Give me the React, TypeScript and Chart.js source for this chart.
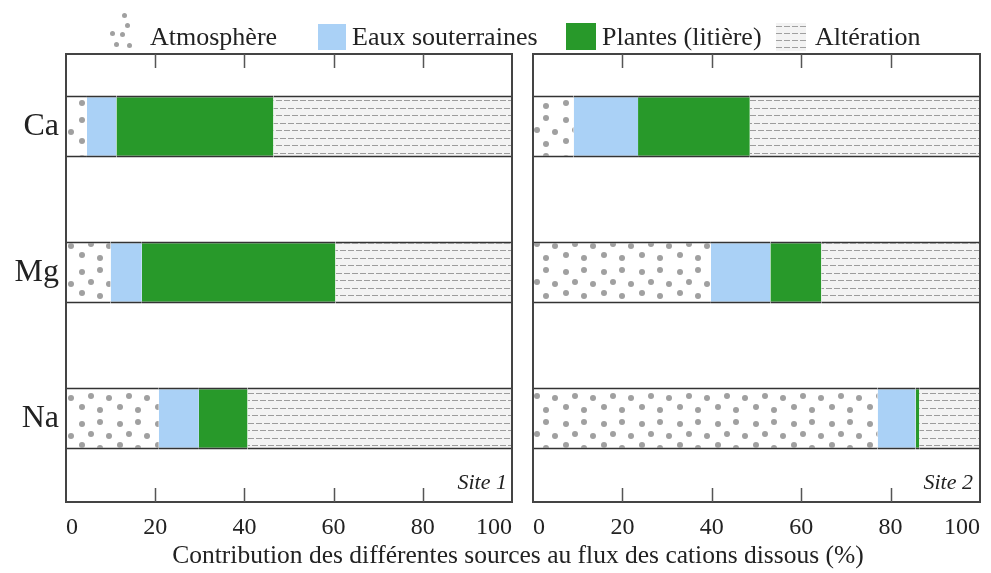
import React, { useEffect, useRef } from 'react';
import { Chart, registerables } from 'chart.js';

Chart.register(...registerables);

// ---------- data ----------
const elements = ['Ca', 'Mg', 'Na'];
const sourceNames = ['Atmosphère', 'Eaux souterraines', 'Plantes (litière)', 'Altération'];

const site1Atmosphere = [4.7, 10.0, 20.8];
const site1Groundwater = [6.6, 7.0, 9.0];
const site1Plants = [35.2, 43.4, 10.9];
const site1Weathering = [53.5, 39.6, 59.3];

const site2Atmosphere = [9.1, 39.8, 77.1];
const site2Groundwater = [14.4, 13.3, 8.5];
const site2Plants = [25.0, 11.4, 0.8];
const site2Weathering = [51.5, 35.5, 13.6];

const xTicks = [0, 20, 40, 60, 80, 100];
const siteLabels = ['Site 1', 'Site 2'];
const axisTitle = 'Contribution des différentes sources au flux des cations dissous (%)';

// ---------- styling ----------
const FONT = "'Liberation Serif', 'DejaVu Serif', serif";
const BLUE = '#aad1f6';
const GREEN = '#28992a';
const DOT = '#a0a0a0';
const DOT_SPOTS: [number, number][] = [
  [6, 6], [24, 4], [15, 16], [33, 18], [6, 27], [24, 30],
];

function makeDotPattern(): CanvasPattern | string {
  const c = document.createElement('canvas');
  c.width = 38;
  c.height = 38;
  const g = c.getContext('2d');
  if (!g) return '#ffffff';
  g.fillStyle = '#ffffff';
  g.fillRect(0, 0, 38, 38);
  g.fillStyle = DOT;
  for (const [x, y] of DOT_SPOTS) {
    g.beginPath();
    g.arc(x, y, 3, 0, Math.PI * 2);
    g.fill();
  }
  return g.createPattern(c, 'repeat') || '#ffffff';
}

function makeDashPattern(): CanvasPattern | string {
  const c = document.createElement('canvas');
  c.width = 16;
  c.height = 15;
  const g = c.getContext('2d');
  if (!g) return '#eeeeee';
  g.fillStyle = '#f3f3f3';
  g.fillRect(0, 0, 16, 15);
  g.fillStyle = '#9c9c9c';
  g.fillRect(0, 3, 6, 1);
  g.fillRect(8, 3, 6, 1);
  g.fillRect(4, 10, 6, 1);
  g.fillRect(12, 10, 4, 1);
  g.fillRect(0, 10, 2, 1);
  return g.createPattern(c, 'repeat') || '#eeeeee';
}

const framePlugin = {
  id: 'panelFrame',
  afterDatasetsDraw(chart: any) {
    const { ctx, chartArea: a, scales } = chart;
    ctx.save();
    ctx.strokeStyle = '#444';
    ctx.lineWidth = 2;
    ctx.strokeRect(a.left, a.top, a.right - a.left, a.bottom - a.top);
    ctx.strokeStyle = '#555';
    ctx.lineWidth = 1.5;
    for (const v of xTicks.slice(1, -1)) {
      const px = Math.round(scales.x.getPixelForValue(v)) + 0.5;
      ctx.beginPath();
      ctx.moveTo(px, a.top);
      ctx.lineTo(px, a.top + 14);
      ctx.moveTo(px, a.bottom);
      ctx.lineTo(px, a.bottom - 14);
      ctx.stroke();
    }
    ctx.restore();
  },
};

function buildChart(
  canvas: HTMLCanvasElement,
  series: number[][],
  showY: boolean,
  padLeft: number,
  padRight: number
) {
  const fills = [makeDotPattern(), BLUE, GREEN, makeDashPattern()];
  const datasets = sourceNames.map((name, k) => ({
    label: name,
    data: series[k].map((v, i) => ({ x: v, y: i })),
    backgroundColor: fills[k] as any,
    borderColor: '#333',
    borderWidth: { top: 2, bottom: 2, left: 0, right: 0 },
    borderSkipped: false as any,
    barThickness: 62,
    inflateAmount: 0,
  }));

  return new Chart(canvas, {
    type: 'bar',
    data: { datasets },
    plugins: [framePlugin],
    options: {
      indexAxis: 'y',
      responsive: false,
      animation: false,
      events: [],
      layout: { padding: { left: padLeft, right: padRight, top: 54, bottom: 31 } },
      plugins: { legend: { display: false }, tooltip: { enabled: false } },
      scales: {
        x: {
          type: 'linear',
          stacked: true,
          min: 0,
          max: 100,
          offset: false,
          grid: { display: false, drawTicks: false, offset: false },
          border: { display: false },
          afterBuildTicks: (scale: any) => {
            scale.ticks = xTicks.map((v) => ({ value: v }));
          },
          afterFit: (scale: any) => {
            scale.height = 40;
          },
          ticks: {
            align: 'inner',
            padding: 11,
            color: '#222',
            font: { family: FONT, size: 24 },
            maxRotation: 0,
            autoSkip: false,
          },
        },
        y: {
          type: 'linear',
          stacked: true,
          reverse: true,
          min: -0.497,
          max: 2.572,
          offset: false,
          display: showY,
          grid: { display: false, drawTicks: false, offset: false },
          border: { display: false },
          afterBuildTicks: (scale: any) => {
            scale.ticks = elements.map((_, i) => ({ value: i }));
          },
          afterFit: (scale: any) => {
            scale.width = showY ? 66 : 0;
          },
          ticks: {
            padding: 7,
            color: '#222',
            font: { family: FONT, size: 32 },
            callback: (v: any) => elements[Math.round(Number(v))] ?? '',
          },
        },
      },
    },
  } as any);
}

const textBase: React.CSSProperties = {
  position: 'absolute',
  fontFamily: FONT,
  color: '#222',
  whiteSpace: 'nowrap',
  lineHeight: 1,
};

const legendDots: [number, number][] = [
  [124, 15], [127, 25], [122, 34], [112, 33], [129, 45], [116, 44],
];

export default function App() {
  const leftRef = useRef<HTMLCanvasElement>(null);
  const rightRef = useRef<HTMLCanvasElement>(null);

  useEffect(() => {
    if (!leftRef.current || !rightRef.current) return;
    const left = buildChart(
      leftRef.current,
      [site1Atmosphere, site1Groundwater, site1Plants, site1Weathering],
      true,
      0,
      9
    );
    const right = buildChart(
      rightRef.current,
      [site2Atmosphere, site2Groundwater, site2Plants, site2Weathering],
      false,
      8,
      10
    );
    return () => {
      left.destroy();
      right.destroy();
    };
  }, []);

  return (
    <div
      style={{
        position: 'fixed',
        left: 0,
        top: 0,
        width: 991,
        height: 573,
        background: '#ffffff',
        overflow: 'hidden',
      }}
    >
      <canvas
        ref={leftRef}
        width={523}
        height={573}
        style={{ position: 'absolute', left: 0, top: 0, width: 523, height: 573 }}
      />
      <canvas
        ref={rightRef}
        width={469}
        height={573}
        style={{ position: 'absolute', left: 522, top: 0, width: 469, height: 573 }}
      />

      {/* legend */}
      {legendDots.map(([x, y], i) => (
        <div
          key={i}
          style={{
            position: 'absolute',
            left: x - 2.5,
            top: y - 2.5,
            width: 5,
            height: 5,
            borderRadius: '50%',
            background: DOT,
          }}
        />
      ))}
      <div style={{ ...textBase, left: 150, top: 24, fontSize: 26 }}>{sourceNames[0]}</div>
      <div style={{ position: 'absolute', left: 318, top: 24, width: 28, height: 26, background: BLUE }} />
      <div style={{ ...textBase, left: 352, top: 24, fontSize: 26 }}>{sourceNames[1]}</div>
      <div style={{ position: 'absolute', left: 566, top: 23, width: 30, height: 27, background: GREEN }} />
      <div style={{ ...textBase, left: 602, top: 24, fontSize: 26 }}>{sourceNames[2]}</div>
      <div
        style={{
          position: 'absolute',
          left: 776,
          top: 23,
          width: 30,
          height: 28,
          backgroundColor: '#f3f3f3',
          backgroundImage:
            'repeating-linear-gradient(to right, transparent 0 6px, #f3f3f3 6px 8px), repeating-linear-gradient(to bottom, #f3f3f3 0 3px, #a0a0a0 3px 4px, #f3f3f3 4px 7px)',
        }}
      />
      <div style={{ ...textBase, left: 815, top: 24, fontSize: 26 }}>{sourceNames[3]}</div>

      {/* site labels */}
      <div style={{ ...textBase, right: 991 - 507, top: 471, fontSize: 22, fontStyle: 'italic' }}>
        {siteLabels[0]}
      </div>
      <div style={{ ...textBase, right: 991 - 973, top: 471, fontSize: 22, fontStyle: 'italic' }}>
        {siteLabels[1]}
      </div>

      {/* x axis title */}
      <div
        style={{
          ...textBase,
          left: 518,
          top: 542,
          fontSize: 25.5,
          transform: 'translateX(-50%)',
        }}
      >
        {axisTitle}
      </div>
    </div>
  );
}
